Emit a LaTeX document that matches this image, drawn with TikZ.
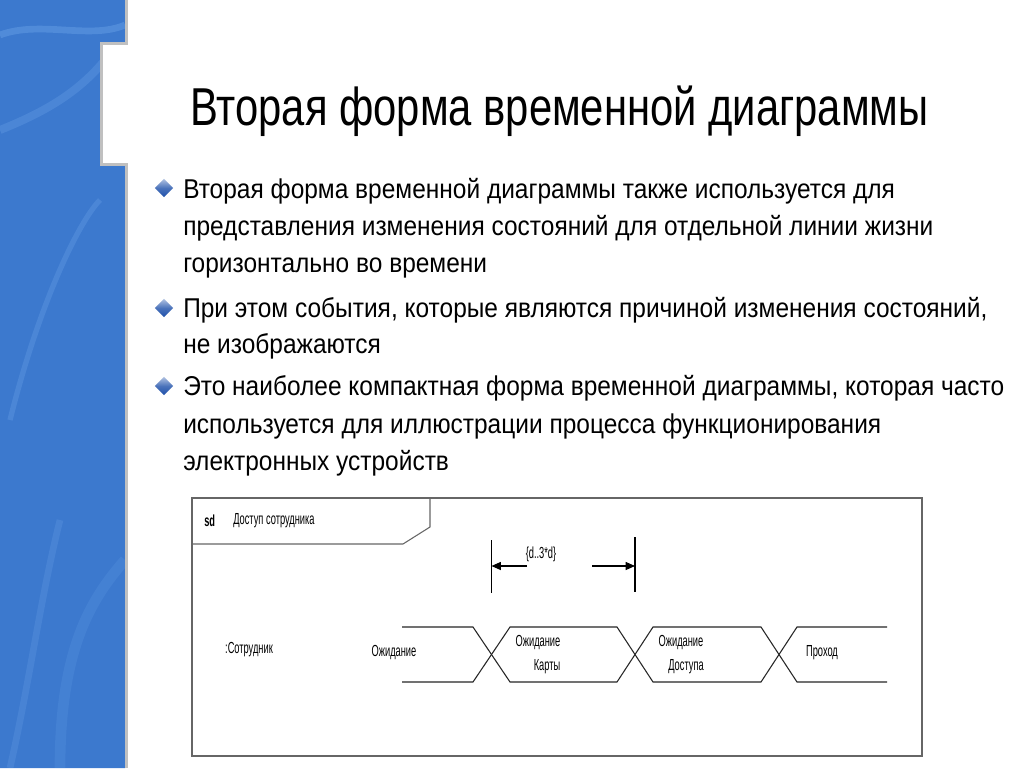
\documentclass[tikz,border=0pt]{standalone}
\usepackage{fontspec}
\setmainfont{Liberation Sans}
\newfontfamily\titlefont[FakeStretch=0.783]{Liberation Sans}
\newfontfamily\slidefont[FakeStretch=0.9]{Liberation Sans}
\newfontfamily\umlfont[FakeStretch=0.58]{Liberation Sans}
\usepackage{tikz}
\usetikzlibrary{arrows.meta,calc,shapes.geometric}

\definecolor{stripblue}{RGB}{60,121,206}
\definecolor{streak}{RGB}{120,175,240}
\definecolor{railgray}{RGB}{192,192,192}
\definecolor{bulletblue}{RGB}{30,80,170}

\tikzset{
  title/.style={anchor=base west,inner sep=0pt,font=\titlefont\fontsize{40}{44}\selectfont},
  bodyline/.style={anchor=base west,inner sep=0pt,font=\slidefont\fontsize{20.4}{24}\selectfont},
  bulletmark/.style={diamond,shape aspect=1,minimum size=14pt,inner sep=0pt,
    top color=bulletblue!35!white,bottom color=bulletblue,middle color=bulletblue!80!white},
  umltext/.style={inner sep=0pt,align=center,font=\umlfont\fontsize{12}{14}\selectfont},
  wave/.style={line width=0.8pt,black!85},
  frameline/.style={line width=1.2pt,black!60},
  dimarrow/.style={line width=0.8pt,-{Triangle[length=7pt,width=6pt]}},
}

\begin{document}
\begin{tikzpicture}[x=0.75pt,y=-0.75pt]
  \useasboundingbox (0,0) rectangle (1024,768);
  \fill[white] (0,0) rectangle (1024,768);

  % Left decorative strip
  \fill[stripblue] (0,0) -- (125,0) -- (125,43) -- (101,43) -- (101,164) -- (125,164) -- (125,768) -- (0,768) -- cycle;
  \begin{scope}
    \clip (0,0) -- (125,0) -- (125,43) -- (101,43) -- (101,164) -- (125,164) -- (125,768) -- (0,768) -- cycle;
    \draw[streak,opacity=0.35,line width=5] (0,35) .. controls (40,20) and (90,40) .. (125,25);
    \draw[streak,opacity=0.25,line width=4] (10,420) .. controls (40,300) and (80,220) .. (100,200);
    \draw[streak,opacity=0.25,line width=6] (0,130) .. controls (50,110) and (80,90) .. (105,60);
    \draw[streak,opacity=0.2,line width=5] (60,520) .. controls (40,600) and (30,680) .. (10,768);
    \draw[streak,opacity=0.15,line width=8] (125,560) .. controls (90,600) and (60,650) .. (60,768);
  \end{scope}
  \draw[railgray,line width=2.4] (126.5,0) -- (126.5,43.5) -- (101.5,43.5) -- (101.5,164.5) -- (126.5,164.5) -- (126.5,768);

  % Title
  \node[title] (heading) at (190,125) {Вторая форма временной диаграммы};

  % Bullets
  \node[bulletmark] (b1) at (164,188) {};
  \node[bodyline] (l11) at (183,198) {Вторая форма временной диаграммы также используется для};
  \node[bodyline] (l12) at (183,235) {представления изменения состояний для отдельной линии жизни};
  \node[bodyline] (l13) at (183,272) {горизонтально во времени};
  \node[bulletmark] (b2) at (164,308) {};
  \node[bodyline] (l21) at (183,317) {При этом события, которые являются причиной изменения состояний,};
  \node[bodyline] (l22) at (183,353) {не изображаются};
  \node[bulletmark] (b3) at (164,386) {};
  \node[bodyline] (l31) at (183,395) {Это наиболее компактная форма временной диаграммы, которая часто};
  \node[bodyline] (l32) at (183,433) {используется для иллюстрации процесса функционирования};
  \node[bodyline] (l33) at (183,470) {электронных устройств};

  % Timing diagram frame
  \draw[frameline] (192,498) rectangle (922,756);
  \draw[frameline,line width=0.8pt] (192,544) -- (403,544) -- (430,527) -- (430,498);
  \node[umltext,anchor=west,font=\umlfont\fontsize{12}{14}\bfseries] (sd) at (204,521) {sd};
  \node[umltext,anchor=west] (sdname) at (233,521) {Доступ сотрудника};

  % Lifeline name
  \node[umltext] (life) at (249,650) {:Сотрудник};

  % State changes
  \coordinate (t0) at (402,0);
  \coordinate (t1) at (491.5,0);
  \coordinate (t2) at (635,0);
  \coordinate (t3) at (779,0);
  \draw[wave] (402,627) -- (473,627) -- (510,682) -- (617,682) -- (653,627) -- (761,627) -- (797,682) -- (887,682);
  \draw[wave] (402,682) -- (473,682) -- (510,627) -- (617,627) -- (653,682) -- (761,682) -- (797,627) -- (887,627);

  \node[umltext] (s0) at (394,652) {Ожидание};
  \node[umltext] (s1a) at (538,642) {Ожидание};
  \node[umltext] (s1b) at (547,667) {Карты};
  \node[umltext] (s2a) at (681,642) {Ожидание};
  \node[umltext] (s2b) at (686,667) {Доступа};
  \node[umltext] (s3) at (822,653) {Проход};

  % Duration constraint
  \coordinate (dl) at ($(t1)+(0,566)$);
  \coordinate (dr) at ($(t2)+(0,566)$);
  \draw[line width=0.8pt] ($(t1)+(0,540)$) -- ($(t1)+(0,593)$);
  \draw[line width=0.8pt] ($(t2)+(0,537)$) -- ($(t2)+(0,592)$);
  \coordinate (dla) at (527,566);
  \coordinate (dra) at (592,566);
  \draw[dimarrow] (dla) -- (dl);
  \draw[dimarrow] (dra) -- (dr);
  \node[umltext] (dur) at (541,554) {\{d..3*d\}};
\end{tikzpicture}
\end{document}
